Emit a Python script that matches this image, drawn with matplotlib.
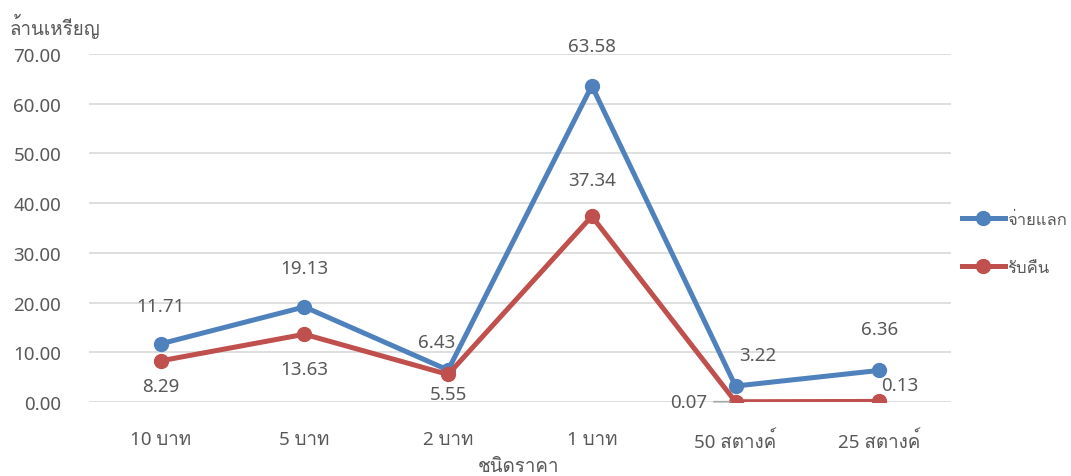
import matplotlib
matplotlib.use("Agg")
import matplotlib.pyplot as plt
from matplotlib import font_manager as fm

categories = ["10 บาท", "5 บาท", "2 บาท", "1 บาท", "50 สตางค์", "25 สตางค์"]
paid = [11.71, 19.13, 6.43, 63.58, 3.22, 6.36]
returned = [8.29, 13.63, 5.55, 37.34, 0.07, 0.13]
series_names = ["จ่ายแลก", "รับคืน"]
yticks = [0, 10, 20, 30, 40, 50, 60, 70]

# look for any installed font that has Thai glyphs
thai = []
for f in fm.fontManager.ttflist:
    if "thai" in f.name.lower() or "loma" in f.name.lower() or "garuda" in f.name.lower():
        if f.name not in thai:
            thai.append(f.name)
plt.rcParams['font.family'] = ['Noto Sans'] + thai + ['DejaVu Sans']

txt = '#595959'
blue = '#4F81BD'
red = '#C0504D'
fs = 13.5

fig = plt.figure(figsize=(10.71, 4.77), dpi=100)
ax = fig.add_axes([0.083, 0.155, 0.805, 0.73])

x = list(range(len(categories)))
ax.plot(x, paid, color=blue, lw=3.6, marker='o', ms=10, label=series_names[0], zorder=3)
ax.plot(x, returned, color=red, lw=3.6, marker='o', ms=10, label=series_names[1], zorder=3)

ax.set_xlim(-0.5, len(categories) - 0.5)
ax.set_ylim(0, 70)
ax.set_yticks(yticks)
ax.set_yticklabels([f"{v:.2f}" for v in yticks])
ax.set_xticks(x)
ax.set_xticklabels(categories)
ax.grid(axis='y', color='#d9d9d9', lw=1.2)
ax.set_axisbelow(True)
for s in ax.spines.values():
    s.set_visible(False)
ax.tick_params(length=0, labelsize=fs, labelcolor=txt)
ax.tick_params(axis='x', pad=20)
ax.tick_params(axis='y', pad=20)

# data labels (offsets in points)
paid_off = [(0, 27), (0, 28), (-8, 20), (0, 29), (16, 22), (0, 30)]
ret_off = [(0, -18), (0, -25), (0, -14), (0, 26), (-34, 0), (15, 12)]
for i in x:
    ax.annotate(f"{paid[i]:.2f}", (i, paid[i]), xytext=paid_off[i], textcoords='offset points',
                ha='center', va='center', fontsize=fs, color=txt)
    # 0.07 gets a short leader line back to its point
    arrow = dict(arrowstyle='-', color='#a6a6a6', lw=1.2, shrinkA=3, shrinkB=4) if i == 4 else None
    ax.annotate(f"{returned[i]:.2f}", (i, returned[i]), xytext=ret_off[i], textcoords='offset points',
                ha='center', va='center', fontsize=fs, color=txt, arrowprops=arrow, zorder=4)

fig.text(0.009, 0.945, "ล้านเหรียญ", fontsize=fs, color=txt, ha='left', va='center')
fig.text(0.484, 0.021, "ชนิดราคา", fontsize=fs, color=txt, ha='center', va='center')

ax.legend(loc='center left', bbox_to_anchor=(0.995, 0.455), frameon=False, fontsize=12,
          labelcolor=txt, handlelength=2.6, handletextpad=0.1, labelspacing=1.9)

fig.savefig("out.png", dpi=100)
